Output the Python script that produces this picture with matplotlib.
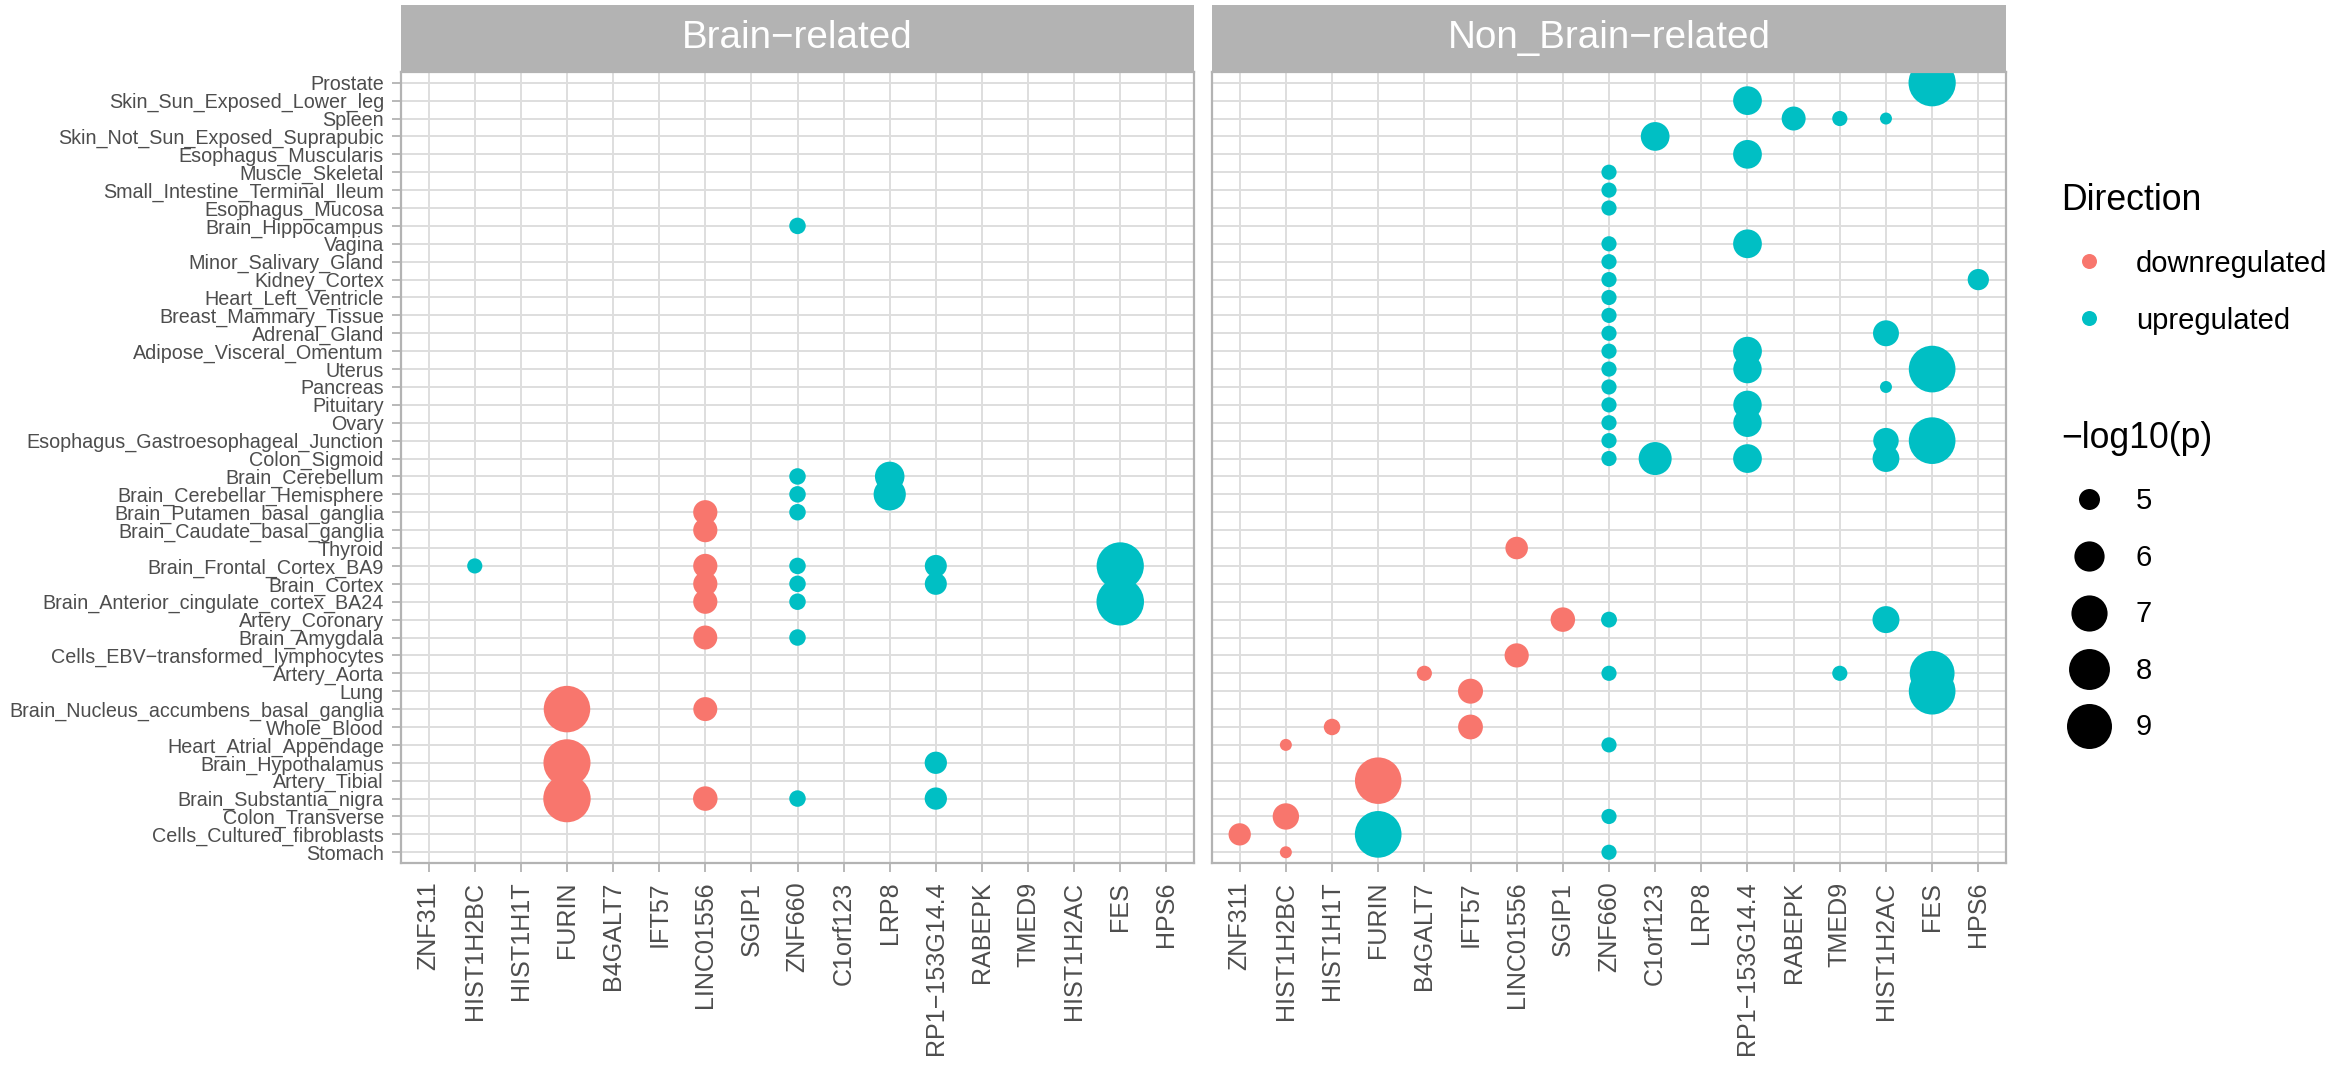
import numpy as np
import matplotlib
matplotlib.use("Agg")
import matplotlib.pyplot as plt

plt.rcParams['font.family'] = ['Liberation Sans', 'DejaVu Sans']

# ---------------- data ----------------
tissues = [
    "Prostate", "Skin_Sun_Exposed_Lower_leg", "Spleen", "Skin_Not_Sun_Exposed_Suprapubic",
    "Esophagus_Muscularis", "Muscle_Skeletal", "Small_Intestine_Terminal_Ileum",
    "Esophagus_Mucosa", "Brain_Hippocampus", "Vagina", "Minor_Salivary_Gland",
    "Kidney_Cortex", "Heart_Left_Ventricle", "Breast_Mammary_Tissue", "Adrenal_Gland",
    "Adipose_Visceral_Omentum", "Uterus", "Pancreas", "Pituitary", "Ovary",
    "Esophagus_Gastroesophageal_Junction", "Colon_Sigmoid", "Brain_Cerebellum",
    "Brain_Cerebellar_Hemisphere", "Brain_Putamen_basal_ganglia",
    "Brain_Caudate_basal_ganglia", "Thyroid", "Brain_Frontal_Cortex_BA9", "Brain_Cortex",
    "Brain_Anterior_cingulate_cortex_BA24", "Artery_Coronary", "Brain_Amygdala",
    "Cells_EBV\u2212transformed_lymphocytes", "Artery_Aorta", "Lung",
    "Brain_Nucleus_accumbens_basal_ganglia", "Whole_Blood", "Heart_Atrial_Appendage",
    "Brain_Hypothalamus", "Artery_Tibial", "Brain_Substantia_nigra", "Colon_Transverse",
    "Cells_Cultured_fibroblasts", "Stomach",
]

genes = [
    "ZNF311", "HIST1H2BC", "HIST1H1T", "FURIN", "B4GALT7", "IFT57", "LINC01556",
    "SGIP1", "ZNF660", "C1orf123", "LRP8", "RP1\u2212153G14.4", "RABEPK", "TMED9",
    "HIST1H2AC", "FES", "HPS6",
]

facets = ["Brain\u2212related", "Non_Brain\u2212related"]
directions = ["downregulated", "upregulated"]
dir_colors = ["#F8766D", "#00BFC4"]
size_breaks = [5, 6, 7, 8, 9]

# Brain-related panel
brain_gene = (["ZNF660"] * 9 + ["LRP8"] * 2 + ["LINC01556"] * 8 + ["FURIN"] * 3 +
              ["HIST1H2BC"] + ["RP1\u2212153G14.4"] * 4 + ["FES"] * 2)
brain_tissue = [
    "Brain_Hippocampus", "Brain_Cerebellum", "Brain_Cerebellar_Hemisphere",
    "Brain_Putamen_basal_ganglia", "Brain_Frontal_Cortex_BA9", "Brain_Cortex",
    "Brain_Anterior_cingulate_cortex_BA24", "Brain_Amygdala", "Brain_Substantia_nigra",
    "Brain_Cerebellum", "Brain_Cerebellar_Hemisphere",
    "Brain_Putamen_basal_ganglia", "Brain_Caudate_basal_ganglia", "Brain_Frontal_Cortex_BA9",
    "Brain_Cortex", "Brain_Anterior_cingulate_cortex_BA24", "Brain_Amygdala",
    "Brain_Nucleus_accumbens_basal_ganglia", "Brain_Substantia_nigra",
    "Brain_Nucleus_accumbens_basal_ganglia", "Brain_Hypothalamus", "Brain_Substantia_nigra",
    "Brain_Frontal_Cortex_BA9",
    "Brain_Frontal_Cortex_BA9", "Brain_Cortex", "Brain_Hypothalamus", "Brain_Substantia_nigra",
    "Brain_Frontal_Cortex_BA9", "Brain_Anterior_cingulate_cortex_BA24",
]
brain_dir = (["upregulated"] * 11 + ["downregulated"] * 11 + ["upregulated"] * 7)
brain_logp = [
    4.76, 4.76, 4.76, 4.76, 4.76, 4.76, 4.76, 4.76, 4.76,
    5.90, 6.30,
    5.27, 5.27, 5.27, 5.27, 5.27, 5.25, 5.25, 5.30,
    9.40, 9.55, 9.65,
    4.72,
    5.08, 5.08, 5.10, 5.10,
    9.60, 9.68,
]

# Non brain-related panel
nonbrain_gene = (["FES"] * 5 + ["RP1\u2212153G14.4"] * 8 + ["RABEPK"] + ["TMED9"] * 2 +
                 ["HIST1H2AC"] * 6 + ["C1orf123"] * 2 + ["HPS6"] + ["ZNF660"] * 21 +
                 ["LINC01556"] * 2 + ["SGIP1"] + ["B4GALT7"] + ["IFT57"] * 2 +
                 ["HIST1H1T"] + ["HIST1H2BC"] * 3 + ["FURIN"] * 2 + ["ZNF311"])
nonbrain_tissue = [
    "Prostate", "Uterus", "Esophagus_Gastroesophageal_Junction", "Artery_Aorta", "Lung",
    "Skin_Sun_Exposed_Lower_leg", "Esophagus_Muscularis", "Vagina", "Adipose_Visceral_Omentum",
    "Uterus", "Pituitary", "Ovary", "Colon_Sigmoid",
    "Spleen",
    "Spleen", "Artery_Aorta",
    "Spleen", "Adrenal_Gland", "Pancreas", "Esophagus_Gastroesophageal_Junction",
    "Colon_Sigmoid", "Artery_Coronary",
    "Skin_Not_Sun_Exposed_Suprapubic", "Colon_Sigmoid",
    "Kidney_Cortex",
    "Muscle_Skeletal", "Small_Intestine_Terminal_Ileum", "Esophagus_Mucosa", "Vagina",
    "Minor_Salivary_Gland", "Kidney_Cortex", "Heart_Left_Ventricle", "Breast_Mammary_Tissue",
    "Adrenal_Gland", "Adipose_Visceral_Omentum", "Uterus", "Pancreas", "Pituitary", "Ovary",
    "Esophagus_Gastroesophageal_Junction", "Colon_Sigmoid", "Artery_Coronary", "Artery_Aorta",
    "Heart_Atrial_Appendage", "Colon_Transverse", "Stomach",
    "Thyroid", "Cells_EBV\u2212transformed_lymphocytes",
    "Artery_Coronary",
    "Artery_Aorta",
    "Lung", "Whole_Blood",
    "Whole_Blood",
    "Heart_Atrial_Appendage", "Colon_Transverse", "Stomach",
    "Artery_Tibial", "Cells_Cultured_fibroblasts",
    "Cells_Cultured_fibroblasts",
]
nonbrain_dir = (["upregulated"] * 46 + ["downregulated"] * 11 +
                ["upregulated"] + ["downregulated"])
nonbrain_logp = [
    9.60, 9.45, 9.45, 8.95, 9.45,
    5.79, 5.79, 5.79, 5.80, 5.75, 5.75, 5.75, 5.79,
    5.25,
    4.72, 4.72,
    4.68, 5.45, 4.68, 5.40, 5.55, 5.57,
    5.79, 6.43,
    5.02,
    4.72, 4.72, 4.72, 4.72, 4.72, 4.72, 4.72, 4.72, 4.72, 4.72, 4.72,
    4.72, 4.72, 4.72, 4.72, 4.72, 4.74, 4.72, 4.72, 4.72, 4.72,
    5.12, 5.27,
    5.30,
    4.72,
    5.35, 5.33,
    4.76,
    4.68, 5.50, 4.68,
    9.40, 9.45,
    5.10,
]

# ---------------- layout ----------------
DPI = 100
W, H = 2328, 1067
fig = plt.figure(figsize=(W / DPI, H / DPI), dpi=DPI)
fig.patch.set_facecolor("white")


def rect(x0, y0, x1, y1):
    return [x0 / W, 1 - y1 / H, (x1 - x0) / W, (y1 - y0) / H]


all_vals = np.array(brain_logp + nonbrain_logp)
vmin, vmax = all_vals.min(), all_vals.max()
DMIN_PX, DMAX_PX = 12.0, 47.5


def size_pts2(v):
    frac = np.clip((np.asarray(v, dtype=float) - vmin) / (vmax - vmin), 0, 1)
    d_px = DMIN_PX + (DMAX_PX - DMIN_PX) * np.sqrt(frac)
    return (d_px * 72 / DPI) ** 2


GRID = "#DEDEDE"
BORDER = "#B3B3B3"
TXT = "#4D4D4D"

panels = [
    ((401, 72, 1194, 863), (401, 5, 1194, 72), brain_gene, brain_tissue, brain_dir, brain_logp),
    ((1212, 72, 2006, 863), (1212, 5, 2006, 72), nonbrain_gene, nonbrain_tissue, nonbrain_dir, nonbrain_logp),
]

for i, (prect, srect, g, t, d, v) in enumerate(panels):
    ax = fig.add_axes(rect(*prect))
    ax.set_facecolor("white")
    xs = np.array([genes.index(k) for k in g])
    ys = np.array([tissues.index(k) for k in t])
    cs = [dir_colors[directions.index(k)] for k in d]
    ax.scatter(xs, ys, s=size_pts2(v), c=cs, linewidths=0, zorder=3)
    ax.set_xlim(-0.6, len(genes) - 1 + 0.6)
    ax.set_ylim(len(tissues) - 1 + 0.6, -0.6)
    ax.set_xticks(range(len(genes)))
    ax.set_xticklabels(genes, rotation=90, ha="center", va="top",
                       fontsize=18.1, color=TXT)
    ax.set_yticks(range(len(tissues)))
    if i == 0:
        ax.set_yticklabels(tissues, fontsize=14.2, color=TXT)
        ax.tick_params(axis="y", length=6.5, width=1.3, color=BORDER, pad=5.8)
    else:
        ax.set_yticklabels([])
        ax.tick_params(axis="y", length=0)
    ax.tick_params(axis="x", length=6.5, width=1.3, color=BORDER, pad=7)
    ax.grid(True, color=GRID, linewidth=1.4)
    ax.set_axisbelow(True)
    for sp in ax.spines.values():
        sp.set_color(BORDER)
        sp.set_linewidth(1.6)
        sp.set_zorder(4)

    sax = fig.add_axes(rect(*srect))
    sax.set_facecolor(BORDER)
    sax.set_xticks([])
    sax.set_yticks([])
    for sp in sax.spines.values():
        sp.set_visible(False)
    sax.text(0.5, 0.5, facets[i], transform=sax.transAxes, ha="center",
             va="center", color="white", fontsize=27.8)

# ---------------- legends ----------------
lax = fig.add_axes([0, 0, 1, 1], facecolor="none")
lax.set_xlim(0, W)
lax.set_ylim(H, 0)
lax.axis("off")

key_x = 2088.7
lab_x = 2135.7
lax.text(2061, 210.5, "Direction", fontsize=25.7, color="black", va="baseline", ha="left")
for j, (name, col) in enumerate(zip(directions, dir_colors)):
    yc = 261 + j * 56.6
    lax.scatter([key_x], [yc], s=(15 * 72 / DPI) ** 2, c=col, linewidths=0)
    lax.text(lab_x, yc + 11.5, name, fontsize=21, color="black", va="baseline", ha="left")

lax.text(2061, 448, "\u2212log10(p)", fontsize=25.7, color="black", va="baseline", ha="left")
for j, b in enumerate(size_breaks):
    yc = 499.4 + j * 56.6
    lax.scatter([key_x], [yc], s=size_pts2(b), c="black", linewidths=0)
    lax.text(lab_x, yc + 9.6, str(b), fontsize=21, color="black", va="baseline", ha="left")

fig.savefig("out.png", dpi=DPI, facecolor="white")
